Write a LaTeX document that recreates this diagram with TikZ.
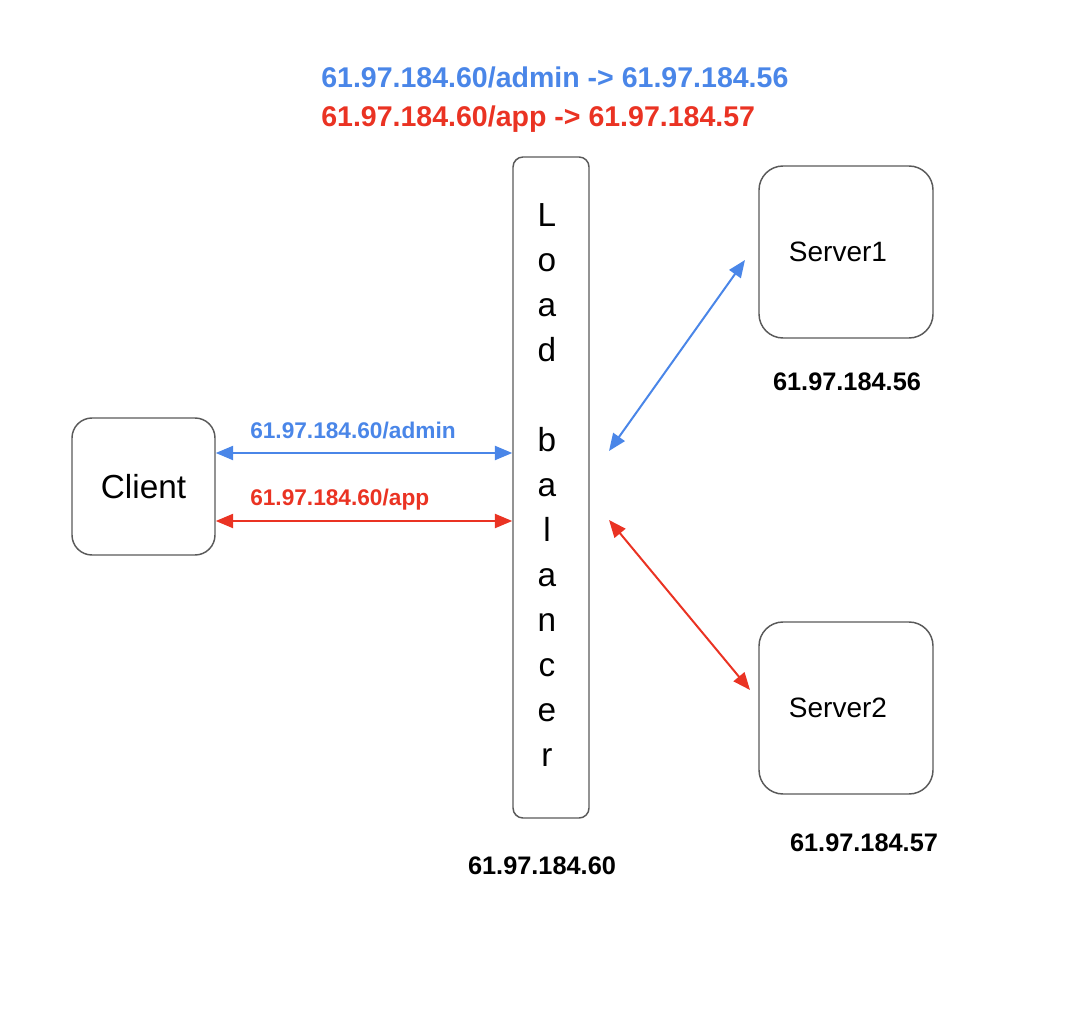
\documentclass[tikz,border=0pt]{standalone}
\usepackage{fontspec}
\setmainfont{Liberation Sans}
\usepackage{xcolor}
\usepackage{tikz}
\usetikzlibrary{arrows.meta}
\definecolor{gblue}{HTML}{4A86E8}
\definecolor{gred}{HTML}{EA3323}
\definecolor{edge}{HTML}{595959}

\begin{document}
\begin{tikzpicture}[x=0.75pt,y=-0.75pt,
  box/.style={draw=edge,line width=1.1pt,inner sep=0pt},
  ip/.style={font=\fontsize{19}{22}\selectfont\bfseries,anchor=base,inner sep=0pt},
  txt/.style={anchor=base west,inner sep=0pt},
  lnk/.style={line width=1.5pt,{Triangle[length=13pt,width=10.5pt]}-{Triangle[length=13pt,width=10.5pt]}}]
 \useasboundingbox (0,0) rectangle (1084,1012);
 % routing rules
 \node[txt,text=gblue,font=\fontsize{21.4}{25}\selectfont\bfseries] (rule1) at (321,88) {61.97.184.60/admin -> 61.97.184.56};
 \node[txt,text=gred,font=\fontsize{21.4}{25}\selectfont\bfseries] (rule2) at (321,127) {61.97.184.60/app -> 61.97.184.57};
 % boxes
 \node[box,rounded corners=15pt,minimum width=107.25pt,minimum height=102.75pt,font=\fontsize{25}{30}\selectfont] (client) at (143.5,486.5) {Client};
 \node[box,rounded corners=7.5pt,minimum width=57pt,minimum height=495.75pt,font=\fontsize{25}{33.75}\selectfont] (lb) at (551,487.5)
   {\hspace*{-6pt}\begin{tabular}{@{}c@{}}L\\o\\a\\d\\\mbox{}\\b\\a\\l\\a\\n\\c\\e\\r\end{tabular}};
 \node[box,rounded corners=18pt,minimum width=130.5pt,minimum height=129pt,font=\fontsize{21}{25}\selectfont] (srv1) at (846,252) {\hspace*{-12pt}Server1};
 \node[box,rounded corners=18pt,minimum width=130.5pt,minimum height=129pt,font=\fontsize{21}{25}\selectfont] (srv2) at (846,708) {\hspace*{-12pt}Server2};
 % addresses
 \node[ip] (ip1) at (847,390) {61.97.184.56};
 \node[ip] (ip2) at (864,851) {61.97.184.57};
 \node[ip] (iplb) at (542,874) {61.97.184.60};
 % links
 \coordinate (adm) at (0,453);
 \coordinate (app) at (0,521);
 \coordinate (s1a) at (609,451);
 \coordinate (s1b) at (745,260);
 \coordinate (s2a) at (609,520);
 \coordinate (s2b) at (750,690);
 \draw[lnk,gblue] (client.east |- adm) -- (lb.west |- adm);
 \draw[lnk,gred] (client.east |- app) -- (lb.west |- app);
 \draw[lnk,gblue] (s1a) -- (s1b);
 \draw[lnk,gred] (s2a) -- (s2b);
 \node[txt,text=gblue,font=\fontsize{17}{20}\selectfont\bfseries] (lab1) at (250,438) {61.97.184.60/admin};
 \node[txt,text=gred,font=\fontsize{17}{20}\selectfont\bfseries] (lab2) at (250,505) {61.97.184.60/app};
\end{tikzpicture}
\end{document}
